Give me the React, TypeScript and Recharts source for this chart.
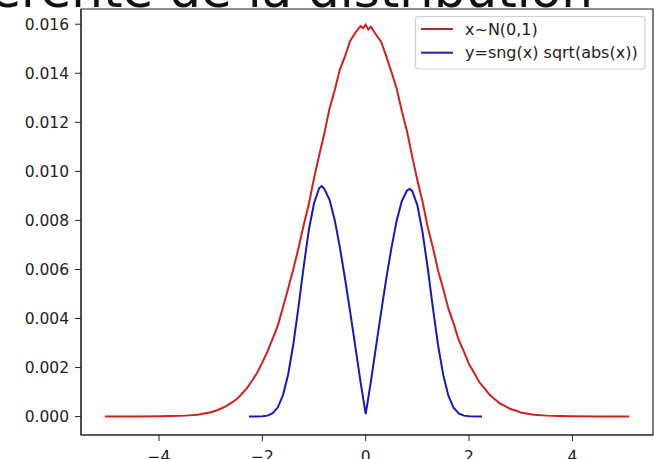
import React from "react";
import { LineChart, Line, XAxis, YAxis, ReferenceArea } from "recharts";

const TITLE = "différente de la distribution";
const seriesNames = ["x~N(0,1)", "y=sng(x) sqrt(abs(x))"];
const seriesColors = ["#d41f1f", "#1717c4"];
const legendColors = ["#b8282a", "#2222a8"];

const xTicks = [-4, -2, 0, 2, 4];
const yTicks = [0, 0.002, 0.004, 0.006, 0.008, 0.01, 0.012, 0.014, 0.016];

const redX = [
  -5.05, -4.5, -4.0, -3.75, -3.5, -3.25, -3.0, -2.9, -2.8, -2.7, -2.6, -2.5, -2.4, -2.3, -2.2, -2.1,
  -2.0, -1.9, -1.8, -1.7, -1.6, -1.5, -1.4, -1.3, -1.2, -1.1, -1.0, -0.9, -0.8, -0.7, -0.6, -0.5,
  -0.4, -0.3, -0.2, -0.1, -0.05, 0, 0.05, 0.1, 0.2, 0.3, 0.4, 0.5, 0.6, 0.7, 0.8, 0.9, 1.0, 1.1,
  1.2, 1.3, 1.4, 1.5, 1.6, 1.7, 1.8, 1.9, 2.0, 2.1, 2.2, 2.3, 2.4, 2.5, 2.6, 2.7, 2.8, 2.9, 3.0,
  3.25, 3.5, 3.75, 4.0, 4.5, 5.1,
];
const redY = [
  0, 0, 0.00001, 0.00002, 0.00004, 0.00008, 0.00018, 0.00024, 0.00033, 0.00043, 0.00056, 0.00071,
  0.00092, 0.00115, 0.00146, 0.00179, 0.00221, 0.00266, 0.00318, 0.00372, 0.00447, 0.00522, 0.00603,
  0.00688, 0.00781, 0.00868, 0.00972, 0.01066, 0.01155, 0.01256, 0.01331, 0.01415, 0.0147, 0.01532,
  0.01566, 0.01592, 0.01584, 0.01598, 0.01578, 0.0159, 0.01557, 0.01528, 0.01468, 0.01404, 0.01337,
  0.01245, 0.01163, 0.0106, 0.00964, 0.00876, 0.00773, 0.0069, 0.00596, 0.00521, 0.0044, 0.0038,
  0.00313, 0.00265, 0.00213, 0.00178, 0.0014, 0.00115, 0.00088, 0.00071, 0.00053, 0.00043, 0.00031,
  0.00025, 0.00017, 0.00008, 0.00004, 0.00002, 0.00001, 0, 0,
];

const blueX = [
  -2.26, -2.0, -1.9, -1.8, -1.7, -1.6, -1.5, -1.4, -1.3, -1.2, -1.1, -1.0, -0.9, -0.85, -0.8, -0.7,
  -0.6, -0.5, -0.4, -0.3, -0.2, -0.1, 0, 0.1, 0.2, 0.3, 0.4, 0.5, 0.6, 0.7, 0.8, 0.85, 0.9, 1.0,
  1.1, 1.2, 1.3, 1.4, 1.5, 1.6, 1.7, 1.8, 1.9, 2.0, 2.25,
];
const blueY = [
  0, 0.00001, 0.00004, 0.00014, 0.00038, 0.00088, 0.00173, 0.00296, 0.00448, 0.00612, 0.00762,
  0.0087, 0.00932, 0.0094, 0.00928, 0.00884, 0.00802, 0.0069, 0.00562, 0.00426, 0.00284, 0.00142,
  0.0001, 0.00143, 0.00286, 0.00428, 0.00566, 0.0069, 0.008, 0.0088, 0.00922, 0.00928, 0.0092,
  0.00862, 0.00752, 0.00606, 0.00444, 0.00292, 0.0017, 0.00085, 0.00036, 0.00013, 0.00004, 0.00001, 0,
];

const X_MIN = -5.51;
const X_MAX = 5.56;
const Y_MIN = -0.00075;
const Y_MAX = 0.01662;

const redData = redX.map((x, i) => ({ x, y: redY[i] }));
const blueData = blueX.map((x, i) => ({ x, y: blueY[i] }));

const FONT = "DejaVu Sans";
const fmtX = (v: number) => (v < 0 ? "\u2212" + Math.abs(v) : String(v));
const fmtY = (v: number) => v.toFixed(3);

export default function App() {
  return (
    <div style={{ position: "absolute", left: 0, top: 0, width: 654, height: 459, background: "#fff" }}>
      <LineChart width={654} height={459} margin={{ top: 9, right: 1, bottom: 0, left: 0 }}>
        <XAxis
          type="number"
          dataKey="x"
          domain={[X_MIN, X_MAX]}
          allowDataOverflow
          ticks={xTicks}
          interval={0}
          tickFormatter={fmtX}
          height={24}
          tickSize={6}
          tickMargin={10}
          stroke="#222"
          tick={{ fill: "#222", fontSize: 15.5, fontFamily: FONT }}
        />
        <YAxis
          type="number"
          domain={[Y_MIN, Y_MAX]}
          allowDataOverflow
          ticks={yTicks}
          interval={0}
          tickFormatter={fmtY}
          width={81}
          tickSize={6}
          tickMargin={6}
          stroke="#222"
          tick={{ fill: "#222", fontSize: 15.5, fontFamily: FONT }}
        />
        <ReferenceArea
          x1={X_MIN}
          x2={X_MAX}
          y1={Y_MIN}
          y2={Y_MAX}
          fill="none"
          fillOpacity={0}
          stroke="#222"
          strokeWidth={1.2}
          ifOverflow="visible"
        />
        <Line
          data={redData}
          dataKey="y"
          name={seriesNames[0]}
          type="linear"
          stroke={seriesColors[0]}
          strokeWidth={2}
          dot={false}
          isAnimationActive={false}
        />
        <Line
          data={blueData}
          dataKey="y"
          name={seriesNames[1]}
          type="linear"
          stroke={seriesColors[1]}
          strokeWidth={2}
          dot={false}
          isAnimationActive={false}
        />
      </LineChart>
      <svg
        width={654}
        height={459}
        style={{ position: "absolute", left: 0, top: 0, pointerEvents: "none" }}
      >
        <text x={593} y={7} textAnchor="end" fontSize={50} fontFamily={FONT} fill="#111">
          {TITLE}
        </text>
        <rect x={415.5} y={16.5} width={229.5} height={52.5} rx={3} fill="#fff" fillOpacity={0.85} stroke="#cfcfcf" strokeWidth={1.2} />
        {seriesNames.map((n, i) => (
          <g key={n}>
            <line x1={421} x2={453} y1={29 + i * 23.7} y2={29 + i * 23.7} stroke={legendColors[i]} strokeWidth={2} />
            <text x={465} y={29 + i * 23.7} dominantBaseline="central" fontSize={16} fontFamily={FONT} fill="#222">
              {n}
            </text>
          </g>
        ))}
      </svg>
    </div>
  );
}
